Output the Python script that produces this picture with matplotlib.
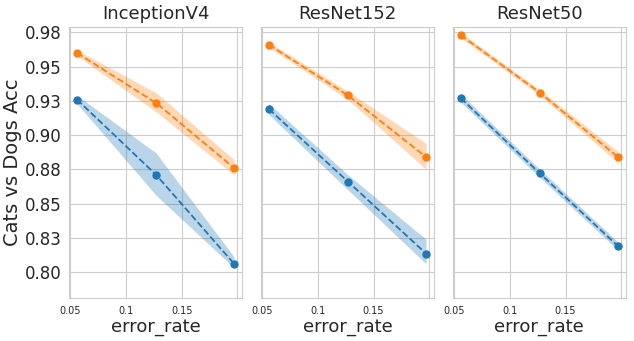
import numpy as np
import matplotlib
matplotlib.use('Agg')
import matplotlib.pyplot as plt
import seaborn as sns

sns.set_style('whitegrid')

models = ['InceptionV4', 'ResNet152', 'ResNet50']
error_rate = [0.056, 0.127, 0.197]

# orange series (mean, low, high)
orange_mean = {'InceptionV4': [0.960, 0.9235, 0.876],
               'ResNet152': [0.966, 0.929, 0.884],
               'ResNet50': [0.973, 0.931, 0.884]}
orange_low = {'InceptionV4': [0.958, 0.917, 0.871],
              'ResNet152': [0.964, 0.926, 0.875],
              'ResNet50': [0.971, 0.929, 0.880]}
orange_high = {'InceptionV4': [0.962, 0.931, 0.882],
               'ResNet152': [0.968, 0.932, 0.894],
               'ResNet50': [0.975, 0.933, 0.888]}

# blue series
blue_mean = {'InceptionV4': [0.926, 0.871, 0.806],
             'ResNet152': [0.919, 0.866, 0.8135],
             'ResNet50': [0.927, 0.872, 0.819]}
blue_low = {'InceptionV4': [0.923, 0.856, 0.803],
            'ResNet152': [0.915, 0.860, 0.806],
            'ResNet50': [0.924, 0.869, 0.816]}
blue_high = {'InceptionV4': [0.929, 0.887, 0.811],
             'ResNet152': [0.923, 0.871, 0.824],
             'ResNet50': [0.930, 0.875, 0.822]}

yticks = [0.800, 0.825, 0.850, 0.875, 0.900, 0.925, 0.950, 0.975]
ytick_labels = ['0.80', '0.83', '0.85', '0.88', '0.90', '0.93', '0.95', '0.98']
xticks = [0.05, 0.1, 0.15, 0.2]
xtick_labels = ['0.05', '0.1', '0.15', '']

fig, axes = plt.subplots(1, 3, sharey=True, figsize=(6.34, 3.41), dpi=100)
fig.subplots_adjust(left=0.109, right=0.987, top=0.921, bottom=0.126, wspace=0.11)

for ax, m in zip(axes, models):
    for mean, low, high, c in [(blue_mean, blue_low, blue_high, 'tab:blue'),
                               (orange_mean, orange_low, orange_high, 'tab:orange')]:
        ax.fill_between(error_rate, low[m], high[m], color=c, alpha=0.3, linewidth=0)
        ax.plot(error_rate, mean[m], '--o', color=c, markersize=5, linewidth=1.3)
    ax.set_title(m, fontsize=13)
    ax.set_xlabel('error_rate', fontsize=13, labelpad=2)
    ax.set_xticks(xticks)
    ax.set_xticklabels(xtick_labels, fontsize=7)
    ax.tick_params(axis='x', pad=2)
    ax.margins(x=0.05)
    for s in ax.spines.values():
        s.set_color('.8')

axes[0].set_ylim(0.781, 0.979)
axes[0].set_yticks(yticks)
axes[0].set_yticklabels(ytick_labels, fontsize=12)
axes[0].tick_params(axis='y', pad=2)
axes[0].set_ylabel('Cats vs Dogs Acc', fontsize=14, labelpad=2)

plt.savefig('out.png', dpi=100)
